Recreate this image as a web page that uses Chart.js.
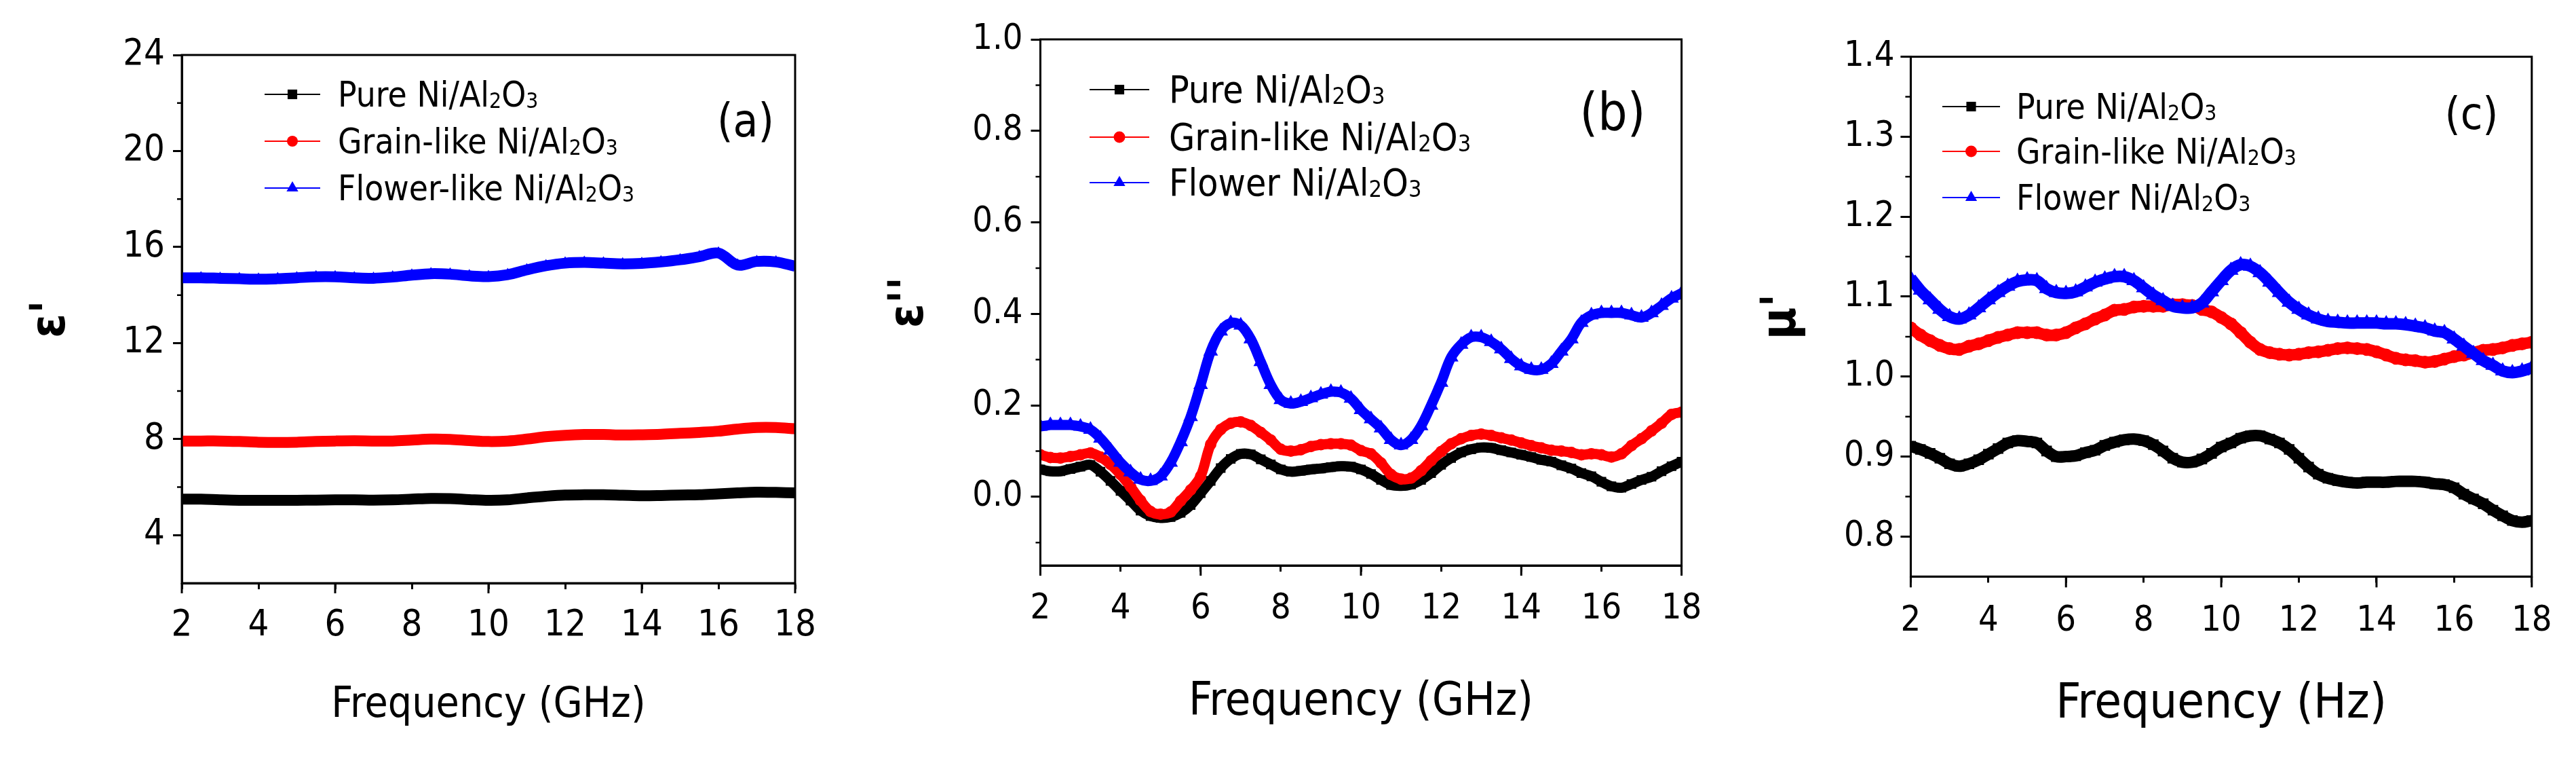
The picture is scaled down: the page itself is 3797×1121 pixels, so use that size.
<!DOCTYPE html>
<html><head><meta charset="utf-8">
<script src="https://cdn.jsdelivr.net/npm/chart.js@4.4.1/dist/chart.umd.min.js"></script>
<style>
html,body{margin:0;padding:0;background:#fff;}
body{width:3797px;height:1121px;position:relative;overflow:hidden;}
canvas{position:absolute;top:0;}
</style></head><body>
<canvas id="ca" width="1250" height="1121" style="left:0px"></canvas>
<canvas id="cb" width="1290" height="1121" style="left:1250px"></canvas>
<canvas id="cc" width="1257" height="1121" style="left:2540px"></canvas>
<script>
const FONT = '"DejaVu Sans Condensed", "DejaVu Sans", sans-serif';

// ---------- data ----------
const namesA = ['Pure Ni/Al₂O₃', 'Grain-like Ni/Al₂O₃', 'Flower-like Ni/Al₂O₃'];
const namesBC = ['Pure Ni/Al₂O₃', 'Grain-like Ni/Al₂O₃', 'Flower Ni/Al₂O₃'];

const xTickValues = [2, 4, 6, 8, 10, 12, 14, 16, 18];
const xLongTicks = [2, 6, 10, 14, 18];

const freqA = [2,2.5,3,3.5,4,4.5,5,5.5,6,6.5,7,7.5,8,8.5,9,9.5,10,10.5,11,11.5,12,12.5,13,13.5,14,14.5,15,15.5,16,16.5,17,17.5,18];
const epsRealPure = [5.50,5.50,5.47,5.45,5.45,5.45,5.45,5.46,5.47,5.47,5.46,5.47,5.50,5.53,5.52,5.48,5.45,5.47,5.55,5.62,5.67,5.68,5.68,5.66,5.64,5.65,5.67,5.68,5.72,5.76,5.79,5.78,5.76];
const epsRealGrain = [7.92,7.92,7.92,7.90,7.87,7.86,7.87,7.90,7.92,7.93,7.92,7.92,7.96,8.00,7.99,7.94,7.90,7.92,8.00,8.10,8.16,8.19,8.19,8.17,8.18,8.20,8.24,8.28,8.33,8.42,8.48,8.48,8.43];
const epsRealFlower = [14.72,14.72,14.70,14.68,14.66,14.68,14.72,14.76,14.76,14.72,14.70,14.75,14.83,14.89,14.87,14.80,14.77,14.85,15.05,15.22,15.33,15.36,15.33,15.30,15.32,15.38,15.47,15.60,15.75,15.25,15.40,15.38,15.20];
const yTicksA = [4, 8, 12, 16, 20, 24];
const yMinorA = [6, 10, 14, 18, 22];

const freqBC = [2,2.25,2.5,2.75,3,3.25,3.5,3.75,4,4.25,4.5,4.75,5,5.25,5.5,5.75,6,6.25,6.5,6.75,7,7.25,7.5,7.75,8,8.25,8.5,8.75,9,9.25,9.5,9.75,10,10.25,10.5,10.75,11,11.25,11.5,11.75,12,12.25,12.5,12.75,13,13.25,13.5,13.75,14,14.25,14.5,14.75,15,15.25,15.5,15.75,16,16.25,16.5,16.75,17,17.25,17.5,17.75,18];
const epsImagPure = [0.060,0.056,0.056,0.061,0.066,0.070,0.055,0.035,0.013,-0.008,-0.030,-0.042,-0.046,-0.044,-0.035,-0.018,0.008,0.035,0.063,0.083,0.094,0.093,0.082,0.071,0.060,0.055,0.057,0.060,0.062,0.065,0.067,0.066,0.060,0.050,0.037,0.026,0.024,0.027,0.037,0.052,0.070,0.085,0.097,0.104,0.108,0.107,0.102,0.097,0.092,0.087,0.081,0.077,0.069,0.062,0.052,0.045,0.033,0.023,0.020,0.028,0.037,0.044,0.056,0.067,0.077];
const epsImagGrain = [0.092,0.086,0.085,0.088,0.092,0.096,0.087,0.071,0.049,0.022,-0.008,-0.032,-0.038,-0.033,-0.009,0.015,0.045,0.115,0.147,0.161,0.164,0.156,0.141,0.124,0.104,0.100,0.103,0.110,0.114,0.116,0.116,0.113,0.101,0.094,0.074,0.049,0.039,0.041,0.057,0.079,0.099,0.116,0.127,0.134,0.137,0.134,0.129,0.124,0.118,0.112,0.107,0.102,0.100,0.097,0.092,0.094,0.092,0.087,0.094,0.112,0.127,0.144,0.161,0.180,0.185];
const epsImagFlower = [0.154,0.157,0.157,0.157,0.154,0.147,0.128,0.102,0.075,0.054,0.038,0.035,0.045,0.075,0.120,0.175,0.245,0.318,0.362,0.380,0.375,0.345,0.295,0.245,0.212,0.204,0.208,0.216,0.224,0.230,0.228,0.215,0.190,0.170,0.150,0.125,0.113,0.125,0.155,0.200,0.250,0.305,0.333,0.349,0.349,0.339,0.323,0.302,0.286,0.278,0.278,0.291,0.318,0.345,0.381,0.397,0.402,0.402,0.402,0.397,0.392,0.402,0.418,0.434,0.445];
const yTicksB = [0.0, 0.2, 0.4, 0.6, 0.8, 1.0];
const yMinorB = [-0.1, 0.1, 0.3, 0.5, 0.7, 0.9];

const muRealPure = [0.913,0.909,0.904,0.898,0.891,0.888,0.891,0.896,0.903,0.910,0.917,0.920,0.919,0.917,0.907,0.900,0.900,0.901,0.905,0.908,0.914,0.918,0.921,0.922,0.920,0.915,0.907,0.898,0.893,0.893,0.897,0.904,0.912,0.917,0.923,0.926,0.926,0.922,0.917,0.909,0.898,0.887,0.878,0.873,0.870,0.868,0.867,0.868,0.868,0.868,0.869,0.869,0.869,0.868,0.866,0.865,0.861,0.853,0.847,0.841,0.833,0.826,0.820,0.818,0.820];
const muRealGrain = [1.061,1.052,1.045,1.039,1.035,1.034,1.038,1.041,1.045,1.049,1.052,1.055,1.055,1.055,1.052,1.052,1.055,1.061,1.066,1.072,1.077,1.083,1.084,1.087,1.088,1.088,1.088,1.090,1.090,1.089,1.084,1.081,1.074,1.066,1.055,1.043,1.034,1.030,1.028,1.027,1.028,1.030,1.031,1.033,1.035,1.036,1.035,1.034,1.031,1.027,1.023,1.021,1.020,1.018,1.019,1.022,1.025,1.027,1.030,1.033,1.034,1.036,1.039,1.041,1.043];
const muRealFlower = [1.123,1.108,1.096,1.084,1.075,1.072,1.077,1.086,1.096,1.105,1.113,1.119,1.121,1.120,1.110,1.105,1.104,1.106,1.112,1.118,1.122,1.125,1.125,1.120,1.111,1.102,1.095,1.088,1.086,1.086,1.092,1.106,1.120,1.133,1.140,1.138,1.130,1.118,1.105,1.093,1.084,1.077,1.072,1.069,1.068,1.067,1.067,1.067,1.067,1.066,1.066,1.065,1.063,1.061,1.057,1.055,1.047,1.038,1.029,1.020,1.014,1.007,1.005,1.007,1.011];
const yTicksC = [0.8, 0.9, 1.0, 1.1, 1.2, 1.3, 1.4];
const yMinorC = [0.85, 0.95, 1.05, 1.15, 1.25, 1.35];

// ---------- helpers ----------
const SUB = {'₀':'0','₁':'1','₂':'2','₃':'3','₄':'4','₅':'5','₆':'6','₇':'7','₈':'8','₉':'9'};
function drawRich(ctx, text, x, y, size) {
  let cx = x, buf = '';
  const flush = () => {
    if (!buf) return;
    ctx.font = size + 'px ' + FONT;
    ctx.fillText(buf, cx, y);
    cx += ctx.measureText(buf).width;
    buf = '';
  };
  for (const ch of text) {
    if (SUB[ch]) {
      flush();
      ctx.font = (size * 0.62) + 'px ' + FONT;
      ctx.fillText(SUB[ch], cx, y + size * 0.04);
      cx += ctx.measureText(SUB[ch]).width;
    } else buf += ch;
  }
  flush();
}

const decoPlugin = {
  id: 'deco',
  afterDraw(chart, args, o) {
    const {ctx, chartArea: a, scales} = chart;
    ctx.save();
    ctx.strokeStyle = '#000';
    ctx.lineWidth = 3;
    ctx.strokeRect(a.left, a.top, a.right - a.left, a.bottom - a.top);
    ctx.beginPath();
    for (const v of o.xLong) {
      const p = scales.x.getPixelForValue(v);
      ctx.moveTo(p, a.bottom); ctx.lineTo(p, a.bottom + o.xLongLen);
    }
    ctx.stroke();
    ctx.lineWidth = 2.5;
    ctx.beginPath();
    for (const v of o.yMinor) {
      const p = scales.y.getPixelForValue(v);
      ctx.moveTo(a.left, p); ctx.lineTo(a.left - o.yMinorLen, p);
    }
    ctx.stroke();
    // panel tag
    ctx.fillStyle = '#000';
    ctx.font = o.tagSize + 'px ' + FONT;
    ctx.textAlign = 'center'; ctx.textBaseline = 'middle';
    ctx.fillText(o.tag, o.tagX, o.tagY);
    // legend
    ctx.textAlign = 'left'; ctx.textBaseline = 'alphabetic';
    const L = o.legend;
    chart.data.datasets.forEach((ds, i) => {
      const y = L.rows[i];
      ctx.strokeStyle = ds.borderColor; ctx.lineWidth = 2;
      ctx.beginPath(); ctx.moveTo(L.x1, y); ctx.lineTo(L.x2, y); ctx.stroke();
      ctx.fillStyle = ds.borderColor; ctx.strokeStyle = ds.borderColor;
      Chart.helpers.drawPoint(ctx, {pointStyle: ds.pointStyle, radius: L.radius[i], rotation: 0, borderWidth: 0}, (L.x1 + L.x2) / 2, y);
      ctx.fillStyle = '#000';
      drawRich(ctx, ds.label, L.tx, y + 0.3645 * L.size - 1, L.size);
    });
    ctx.restore();
  }
};

function pts(xs, ys) { return xs.map((x, i) => ({x: x, y: ys[i]})); }

function makeChart(id, cfg) {
  const W = cfg.W, H = 1121;
  const colors = ['#000000', '#ff0000', '#0000ff'];
  const styles = ['rect', 'circle', 'triangle'];
  const datasets = cfg.series.map((s, i) => ({
    label: cfg.names[i],
    data: pts(cfg.freq, s),
    borderColor: colors[i],
    backgroundColor: colors[i],
    pointBackgroundColor: colors[i],
    pointBorderWidth: 0,
    pointStyle: styles[i],
    pointRadius: cfg.pointR[i],
    borderWidth: cfg.lineW[i],
    tension: 0.35,
    borderJoinStyle: 'round',
    order: 3 - i
  }));
  return new Chart(document.getElementById(id), {
    type: 'line',
    data: {datasets},
    plugins: [decoPlugin],
    options: {
      responsive: false, animation: false, devicePixelRatio: 1,
      layout: {padding: {left: 0, top: cfg.T, right: W - cfg.R, bottom: 0}},
      plugins: {
        legend: {display: false}, tooltip: {enabled: false},
        deco: cfg.deco
      },
      scales: {
        x: {
          type: 'linear', position: 'bottom', min: 2, max: 18,
          afterBuildTicks: s => { s.ticks = xTickValues.map(v => ({value: v})); },
          afterFit: s => { s.height = H - cfg.B; },
          ticks: {autoSkip: false, maxRotation: 0, color: '#000', padding: cfg.xPad,
                  font: {family: FONT, size: cfg.tickSize}, callback: v => String(v)},
          grid: {display: true, drawOnChartArea: false, drawTicks: true, tickLength: 9, tickWidth: 3, tickColor: '#000'},
          border: {display: true, color: '#000', width: 3},
          title: {display: true, text: cfg.xTitle, color: '#000',
                  font: {family: FONT, size: cfg.xTitleSize}, padding: {top: 0, bottom: cfg.xTitlePad}}
        },
        y: {
          type: 'linear', position: 'left', min: cfg.yMin, max: cfg.yMax,
          afterBuildTicks: s => { s.ticks = cfg.yTicks.map(v => ({value: v})); },
          afterFit: s => { s.width = cfg.L; },
          ticks: {color: '#000', padding: cfg.yPad, font: {family: FONT, size: cfg.tickSize},
                  callback: v => cfg.fmt(v)},
          grid: {display: true, drawOnChartArea: false, drawTicks: true, tickLength: cfg.yTickLen, tickWidth: 3, tickColor: '#000'},
          border: {display: true, color: '#000', width: 3},
          title: {display: true, text: cfg.yTitle, color: '#000',
                  font: {family: FONT, size: 72, weight: 'bold'}, padding: {top: cfg.yTitlePad, bottom: 0}}
        }
      }
    }
  });
}

makeChart('ca', {
  W: 1250, L: 268, R: 1172, T: 81, B: 859,
  freq: freqA, series: [epsRealPure, epsRealGrain, epsRealFlower], names: namesA,
  pointR: [8, 7, 10], lineW: [16, 16, 16],
  yMin: 2, yMax: 24, yTicks: yTicksA, fmt: v => String(Math.round(v)),
  tickSize: 54, xPad: 22, yPad: 12, yTickLen: 13,
  xTitle: 'Frequency (GHz)', xTitleSize: 62, xTitlePad: 44,
  yTitle: "ε'", yTitlePad: 33,
  deco: {xLong: xLongTicks, xLongLen: 15, yMinor: yMinorA, yMinorLen: 7,
         tag: '(a)', tagSize: 67, tagX: 1099, tagY: 184,
         legend: {x1: 390, x2: 472, tx: 498, rows: [139, 208, 277], size: 51, radius: [10, 8, 10]}}
});

makeChart('cb', {
  W: 1290, L: 283.5, R: 1228.6, T: 58, B: 833,
  freq: freqBC, series: [epsImagPure, epsImagGrain, epsImagFlower], names: namesBC,
  pointR: [10, 8.5, 12.5], lineW: [15, 15, 15],
  yMin: -0.15, yMax: 1.0, yTicks: yTicksB, fmt: v => v.toFixed(1),
  tickSize: 52, xPad: 24, yPad: 12, yTickLen: 14,
  xTitle: 'Frequency (GHz)', xTitleSize: 68, xTitlePad: 45,
  yTitle: "ε''", yTitlePad: 48,
  deco: {xLong: xLongTicks, xLongLen: 15, yMinor: yMinorB, yMinorLen: 7,
         tag: '(b)', tagSize: 76, tagX: 1127, tagY: 171,
         legend: {x1: 356, x2: 444, tx: 473, rows: [132, 202, 269], size: 55, radius: [10, 8.5, 10]}}
});

makeChart('cc', {
  W: 1257, L: 276.4, R: 1191.8, T: 83.6, B: 849.3,
  freq: freqBC, series: [muRealPure, muRealGrain, muRealFlower], names: namesBC,
  pointR: [11, 9.5, 13], lineW: [17, 17, 17],
  yMin: 0.75, yMax: 1.4, yTicks: yTicksC, fmt: v => v.toFixed(1),
  tickSize: 52, xPad: 26, yPad: 9, yTickLen: 15,
  xTitle: 'Frequency (Hz)', xTitleSize: 72, xTitlePad: 40,
  yTitle: "μ'", yTitlePad: 44,
  deco: {xLong: xLongTicks, xLongLen: 16, yMinor: yMinorC, yMinorLen: 8,
         tag: '(c)', tagSize: 66, tagX: 1103, tagY: 173,
         legend: {x1: 323, x2: 408, tx: 432, rows: [157, 223, 291], size: 51, radius: [10, 8.5, 10]}}
});
</script>
</body></html>
